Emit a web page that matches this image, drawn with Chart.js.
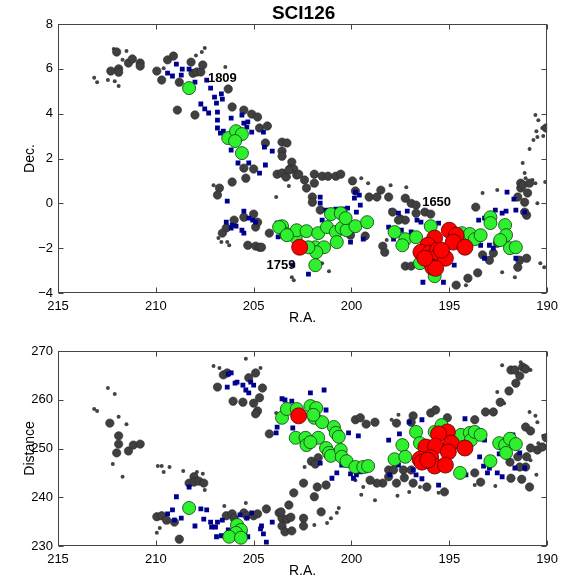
<!DOCTYPE html>
<html>
<head>
<meta charset="utf-8">
<script src="https://cdn.jsdelivr.net/npm/chart.js@4/dist/chart.umd.min.js"></script>
<style>
  html, body { margin: 0; padding: 0; background: #fff; }
  #wrap { position: relative; width: 564px; height: 579px; }
  canvas { position: absolute; left: 0; }
</style>
</head>
<body>
<div id="wrap">
  <canvas id="top" width="564" height="335" style="top:0"></canvas>
  <canvas id="bottom" width="564" height="244" style="top:335px"></canvas>
</div>
<script>
// R.A. axis is shared, drawn reversed
const raMin = 190, raMax = 215;
const decMin = -4, decMax = 8;
const distMin = 230, distMax = 270;

// ---- upper panel: [R.A., Dec.] ----
const topGrayLarge = [
  [212.3,5.9],[211.9,6.0],[211.9,5.85],[211.4,6.26],[211.2,6.44],[210.8,6.26],[210.8,6.12],[212.0,6.75],
  [209.95,5.9],[209.7,5.5],[209.4,6.4],[209.1,6.57],[208.8,5.4],[208.2,6.3],[208.1,5.8],[207.9,5.86],
  [207.7,5.86],[207.6,6.17],[206.3,5.1],[208.9,4.16],[208.0,3.94],[206.1,4.3],[205.5,4.16],[205.1,3.98],
  [204.8,3.85],[204.7,3.36],[204.3,3.45],[204.4,2.69],[203.55,2.73],[203.3,2.69],[203.55,2.33],[203.55,2.1],
  [205.5,1.57],[205.4,1.12],[205.0,1.53],[206.1,0.95],[206.75,0.68],[206.85,0.37],[203.8,1.3],[203.55,1.35],
  [203.35,1.17],[203.05,1.84],[203.15,1.53],[202.95,1.53],[202.8,1.26],[203.2,1.48],[202.7,1.3],[202.4,1.04],
  [201.9,1.3],[201.9,0.9],[201.5,1.21],[201.2,1.21],[200.8,1.21],[200.55,1.3],[199.95,1.0],[202.3,0.68],
  [202.0,0.28],[202.0,0.05],[201.6,-0.3],[199.8,0.55],[199.1,0.28],[205.5,-0.62],[205.0,-0.48],[204.9,-1.06],
  [204.8,-0.84],[206.0,-0.75],[206.4,-1.1],[206.6,-1.33],[205.3,-1.87],[204.9,-1.91],[204.7,-1.96],[204.6,-1.96],
  [204.2,-1.33],[199.3,-1.46],[200.05,-1.42],[198.5,0.59],[198.1,0.28],[198.7,0.28],[197.25,0.23],[196.95,0.0],
  [196.7,-0.08],[197.9,-0.39],[197.5,-0.7],[197.25,-0.75],[197.6,-0.75],[196.7,-0.44],[196.25,-0.39],[195.95,-0.48],
  [198.4,-1.91],[198.3,-2.18],[197.25,-2.8],[196.95,-2.8],[193.65,-0.17],[192.55,-1.78],[192.75,-2.22],[192.95,-2.54],
  [193.3,-2.3],[191.4,-2.54],[191.5,-2.85],[191.05,-2.45],[194.05,-3.34],[193.55,-3.1],[194.65,-3.65],[191.5,0.28],
  [191.15,0.05],[191.05,-0.53],[191.35,0.68],[191.35,0.9],[191.25,0.81],[191.0,0.46],[190.9,0.9],[191.15,-0.39],
  [190.05,3.36]
];
const topGraySmall = [
  [213.15,5.6],[213.0,5.4],[212.45,5.5],[212.1,5.45],[211.9,5.23],[212.15,6.88],[211.5,6.8],[211.7,6.4],
  [207.95,6.6],[207.65,6.75],[207.5,6.93],[206.45,6.08],[209.6,6.03],[207.05,0.81],[203.85,0.28],[203.2,0.77],
  [206.65,-1.73],[206.35,-1.73],[206.25,-1.87],[206.8,-1.55],[203.05,-3.3],[202.95,-3.43],[201.5,-2.67],[201.15,-3.03],
  [199.5,1.12],[203.2,1.17],[197.2,0.72],[198.0,0.81],[199.15,0.9],[193.3,0.46],[192.55,0.59],[191.25,1.8],
  [191.15,1.35],[191.1,1.12],[190.75,1.04],[190.6,0.9],[190.1,0.95],[190.5,0.0],[190.35,-2.67],[190.15,-2.85],
  [191.65,-3.3],[192.3,-3.07],[194.15,-3.65],[198.0,-0.3],[198.2,-1.64],[190.6,3.94],[190.45,3.71],[190.55,3.22],
  [190.25,3.36],[190.2,3.0],[190.5,2.96],[190.7,2.82],[190.9,2.42]
];
const topBlue = [
  [208.95,6.21],[208.65,5.99],[209.4,5.81],[209.15,5.68],[208.7,5.72],[208.3,5.99],[208.0,5.41],[207.4,5.5],
  [207.2,5.14],[207.0,4.74],[206.65,4.88],[206.6,4.65],[206.9,4.47],[207.7,4.43],[207.5,4.21],[207.3,4.03],
  [206.85,4.07],[206.85,3.71],[206.15,3.8],[205.6,3.94],[205.5,3.58],[205.3,3.63],[205.35,3.4],[205.1,3.18],
  [204.5,3.18],[206.85,3.36],[206.7,3.13],[206.55,3.22],[206.15,2.38],[204.45,2.51],[204.05,2.33],[205.8,1.8],
  [205.25,1.8],[204.7,1.35],[204.4,1.71],[206.35,0.1],[205.5,-0.35],[206.4,-0.84],[206.1,-0.97],[205.9,-1.02],
  [206.15,-1.1],[205.5,-1.33],[205.25,-0.66],[205.05,-0.75],[204.9,-0.84],[205.6,-1.2],[203.8,-0.88],[203.75,-1.5],
  [203.0,-2.76],[202.2,-3.16],[201.6,0.28],[201.6,0.01],[201.3,-0.3],[201.5,-0.75],[200.8,-0.26],[200.35,-0.26],
  [200.2,-0.21],[199.75,-0.39],[199.55,-0.08],[199.85,0.23],[199.6,0.37],[199.8,0.5],[200.05,-1.73],[199.4,-1.6],
  [198.1,-1.06],[197.6,-0.44],[197.15,-0.35],[196.65,-0.75],[196.45,-0.84],[195.55,-0.88],[197.45,-1.2],[196.95,-1.28],
  [197.85,-1.6],[194.75,-2.76],[196.35,-3.52],[195.3,-3.52],[193.5,-0.75],[193.2,-0.66],[192.65,-0.3],[192.05,0.5],
  [191.7,0.19],[191.6,-0.3],[191.15,-0.39],[193.4,-1.87],[192.95,-1.87],[192.75,-2.0],[193.2,-2.45],[191.6,-2.45],
  [192.1,-0.35],[192.3,-0.44]
];
const topGreen = [
  [208.3,5.14],[206.3,2.91],[205.9,3.22],[205.6,3.09],[205.95,2.78],[205.6,2.24],[203.55,-1.02],[203.35,-1.37],
  [202.85,-1.51],[202.8,-1.2],[203.7,-1.06],[203.3,-1.42],[202.3,-1.24],[201.7,-1.33],[201.25,-1.06],[200.8,-1.28],
  [200.5,-1.1],[200.25,-1.2],[199.8,-1.02],[199.2,-0.84],[201.05,-0.48],[200.55,-0.44],[200.3,-0.66],[200.75,-1.73],
  [201.85,-1.96],[201.4,-1.96],[201.8,-2.18],[201.85,-2.76],[202.2,-1.96],[197.8,-1.28],[197.25,-1.6],[197.4,-1.87],
  [196.7,-1.51],[195.95,-1.02],[196.5,-2.67],[195.75,-3.25],[194.35,-1.33],[193.95,-1.37],[193.7,-1.6],[193.4,-1.42],
  [192.9,-0.62],[192.9,-0.88],[192.15,-0.97],[192.1,-1.42],[192.4,-1.64],[191.9,-2.0],[191.6,-1.96]
];
const topRed = [
  [202.65,-1.96],[195.0,-1.2],[195.75,-1.55],[196.1,-1.87],[196.45,-2.18],[196.0,-2.22],[195.6,-2.09],[195.7,-2.45],
  [195.2,-2.45],[195.85,-2.85],[195.7,-2.9],[194.65,-1.42],[194.8,-1.73],[194.2,-1.96],[195.4,-2.09],[196.25,-2.45]
];
const topNotes = [
  { text: '1809', ra: 206.6, dec: 5.55 },
  { text: '1650', ra: 195.65, dec: 0.05 },
  { text: '1759', ra: 203.6, dec: -2.76 }
];

// ---- lower panel: [R.A., Distance] ----
const botGrayLarge = [
  [212.35,255.2],[211.9,252.6],[211.9,250.9],[212.0,249.1],[211.4,249.5],[211.15,250.7],[210.8,250.9],[206.85,262.6],
  [206.55,265.1],[206.35,265.5],[205.25,264.5],[204.9,265.5],[204.55,262.4],[206.05,259.7],[205.55,259.5],[205.0,259.3],
  [204.7,260.4],[204.8,257.7],[204.9,257.1],[204.2,253.0],[208.05,244.2],[208.3,242.9],[208.05,243.1],[207.8,243.3],
  [207.55,242.9],[209.95,236.0],[209.7,236.2],[209.45,235.3],[209.05,234.9],[208.8,231.4],[206.4,236.2],[206.1,236.6],
  [206.0,235.7],[205.5,236.8],[205.35,236.2],[205.0,236.2],[204.8,236.6],[204.35,237.6],[203.7,236.8],[203.55,235.7],
  [203.3,235.5],[203.1,235.9],[203.55,234.1],[203.4,232.9],[203.05,233.1],[203.2,238.4],[202.95,240.9],[199.8,255.9],
  [199.55,256.3],[199.25,255.0],[202.05,247.4],[201.7,248.1],[201.85,246.8],[202.45,242.9],[201.75,242.1],[201.3,242.5],
  [201.9,240.1],[203.6,237.0],[202.45,235.7],[202.45,234.1],[201.55,237.0],[198.8,255.4],[197.7,255.2],[196.85,256.7],
  [195.95,257.3],[195.7,257.9],[195.1,256.3],[196.95,255.4],[193.15,257.5],[192.75,257.5],[193.7,255.9],[192.4,259.5],
  [191.95,261.8],[191.6,263.4],[191.4,264.9],[191.85,266.1],[191.65,266.1],[191.25,266.7],[191.1,266.3],[191.1,254.4],
  [190.85,253.6],[190.5,249.7],[190.85,250.1],[191.05,248.3],[191.1,246.2],[191.5,248.3],[191.4,246.2],[191.9,247.2],
  [191.85,243.9],[191.3,243.7],[190.9,242.1],[190.25,250.3],[198.1,245.6],[197.85,245.6],[197.35,245.6],[196.95,245.6],
  [197.3,244.0],[196.85,242.9],[196.15,242.1],[195.25,241.1],[198.4,242.9],[198.7,242.9],[199.05,243.5],[198.1,244.2],
  [197.7,242.9],[193.7,245.0],[193.4,243.1],[190.05,252.2]
];
const botGraySmall = [
  [213.15,258.1],[213.0,257.7],[212.45,262.4],[212.1,261.2],[211.9,256.5],[211.5,255.0],[207.05,266.9],[206.75,266.5],
  [205.4,268.4],[204.65,266.5],[203.85,257.3],[212.2,246.8],[211.7,244.2],[209.9,246.4],[209.7,246.4],[209.6,245.2],
  [209.3,246.2],[208.6,245.4],[207.9,245.2],[207.6,244.8],[207.5,241.5],[209.95,232.7],[209.8,233.7],[206.5,238.2],
  [205.4,238.8],[200.65,237.8],[200.75,236.8],[201.05,235.7],[201.25,234.7],[201.9,234.3],[202.4,246.2],[199.5,240.5],
  [199.4,242.1],[199.8,243.5],[192.3,267.1],[191.35,267.7],[190.85,266.1],[192.55,261.6],[192.2,259.3],[190.9,257.5],
  [190.6,256.7],[190.5,255.4],[190.45,251.1],[190.2,252.6],[190.55,244.6],[190.85,247.6],[196.5,242.1],[197.05,241.1],
  [197.65,240.3],[195.55,240.9],[192.65,242.3],[193.7,242.5],[197.6,256.9],[197.95,255.9],[198.8,239.4]
];
const botBlue = [
  [206.3,265.3],[206.15,265.5],[206.35,262.6],[205.95,263.4],[205.85,263.6],[205.55,263.0],[205.4,262.0],[205.25,261.4],
  [205.15,263.6],[205.0,263.0],[203.55,260.2],[203.4,259.95],[203.05,259.7],[203.8,254.4],[203.0,254.2],[202.1,261.4],
  [201.4,262.0],[201.3,257.9],[203.85,253.2],[200.15,253.2],[199.65,252.6],[201.6,247.0],[200.75,245.0],[200.5,246.6],
  [201.0,243.9],[200.05,244.8],[199.75,244.6],[199.55,245.2],[199.9,243.9],[199.3,245.4],[208.3,242.1],[208.95,240.1],
  [209.4,236.6],[209.15,237.4],[208.7,235.7],[209.05,235.3],[208.0,234.1],[207.7,237.6],[207.4,237.4],[207.55,235.5],
  [207.2,234.9],[206.95,233.9],[207.15,233.9],[206.85,234.9],[206.6,235.3],[206.9,231.9],[206.65,232.1],[206.3,233.3],
  [205.7,236.4],[205.35,235.7],[205.1,236.8],[205.3,231.9],[205.45,232.9],[204.65,233.5],[204.5,232.5],[204.35,230.8],
  [204.05,234.9],[204.6,234.1],[197.55,253.0],[198.1,251.7],[197.05,255.4],[196.4,255.9],[194.2,256.1],[193.2,251.7],
  [193.45,248.3],[193.25,246.4],[193.05,245.0],[192.55,245.0],[192.3,244.2],[192.95,246.0],[191.75,252.8],[191.4,249.1],
  [191.65,246.0],[191.15,246.0],[197.6,246.6],[198.05,244.6],[196.85,245.6],[196.7,244.6],[196.4,243.8],[195.55,242.5],
  [194.15,244.6],[192.45,248.9],[192.05,248.3]
];
const botGreen = [
  [203.55,256.3],[203.3,258.1],[202.8,258.1],[202.1,258.7],[201.8,258.3],[201.9,256.3],[201.5,255.4],[202.85,252.2],
  [202.35,252.2],[202.3,250.7],[201.7,252.2],[202.1,251.3],[200.9,254.4],[200.8,253.2],[200.65,252.4],[201.3,250.1],
  [201.15,249.1],[201.05,248.5],[200.55,249.7],[200.5,248.3],[200.25,247.4],[199.8,246.2],[199.4,246.2],[201.95,256.9],
  [205.85,234.3],[205.65,233.3],[205.9,232.7],[206.25,231.9],[205.65,231.7],[208.3,237.8],[199.15,246.4],[197.8,247.8],
  [197.4,250.7],[197.25,248.3],[196.7,253.4],[196.5,251.1],[195.75,253.4],[195.4,254.8],[194.45,245.0],[194.4,252.8],
  [193.95,253.2],[193.9,251.7],[193.7,253.4],[193.4,252.8],[192.9,247.4],[192.45,251.1],[192.15,250.7],[192.1,249.1],
  [191.9,252.0],[191.6,250.9]
];
const botRed = [
  [202.7,256.7],[195.1,253.4],[195.55,253.0],[196.2,250.3],[195.7,250.5],[194.9,251.1],[194.2,250.1],[195.05,249.3],
  [196.5,247.8],[195.95,248.1],[195.75,246.4],[195.2,246.6],[196.4,247.2],[196.1,247.6]
];

const FONT = '"Liberation Sans", Arial, Helvetica, sans-serif';
const toPts = arr => arr.map(([x, y]) => ({ x, y }));

function series(red, green, blue, grayL, grayS) {
  // first dataset is painted last, so red ends up on top
  return [
    { data: toPts(red), pointRadius: 8, backgroundColor: '#ff0000', borderColor: '#5a0000', borderWidth: 0.8 },
    { data: toPts(green), pointRadius: 6.5, backgroundColor: '#2ef02e', borderColor: '#0b3d0b', borderWidth: 0.8 },
    { data: toPts(blue), pointStyle: 'rect', pointRadius: 3.4, backgroundColor: '#00008f', borderColor: '#00008f', borderWidth: 0 },
    { data: toPts(grayL), pointRadius: 4.2, backgroundColor: '#404040', borderColor: '#2a2a2a', borderWidth: 0.6 },
    { data: toPts(grayS), pointRadius: 2, backgroundColor: '#444444', borderColor: '#333333', borderWidth: 0 }
  ].map(d => Object.assign({ pointHoverRadius: d.pointRadius }, d));
}

// box, inward tick marks, axis titles and text notes
function framePlugin(xTitle, yTitle, title, notes) {
  return {
    id: 'frame',
    afterDatasetsDraw(chart) {
      const ctx = chart.ctx;
      const a = chart.chartArea;
      const xs = chart.scales.x, ys = chart.scales.y;
      ctx.save();
      if (notes) {
        ctx.fillStyle = '#000';
        ctx.font = 'bold 13px ' + FONT;
        ctx.textAlign = 'center';
        ctx.textBaseline = 'middle';
        notes.forEach(n => ctx.fillText(n.text, xs.getPixelForValue(n.ra), ys.getPixelForValue(n.dec)));
      }
      ctx.strokeStyle = '#444';
      ctx.lineWidth = 1;
      const L = Math.round(a.left) + 0.5, R = Math.round(a.right) - 0.5;
      const T = Math.round(a.top) + 0.5, B = Math.round(a.bottom) - 0.5;
      ctx.strokeRect(L, T, R - L, B - T);
      ctx.beginPath();
      xs.ticks.forEach(t => {
        const p = Math.round(xs.getPixelForValue(t.value)) + 0.5;
        ctx.moveTo(p, B); ctx.lineTo(p, B - 5);
        ctx.moveTo(p, T); ctx.lineTo(p, T + 5);
      });
      ys.ticks.forEach(t => {
        const p = Math.round(ys.getPixelForValue(t.value)) + 0.5;
        ctx.moveTo(L, p); ctx.lineTo(L + 5, p);
        ctx.moveTo(R, p); ctx.lineTo(R - 5, p);
      });
      ctx.stroke();

      ctx.fillStyle = '#000';
      ctx.font = '14px ' + FONT;
      ctx.textAlign = 'center';
      ctx.textBaseline = 'middle';
      ctx.fillText(xTitle, (a.left + a.right) / 2, a.bottom + 25);
      ctx.translate(a.left - 28, (a.top + a.bottom) / 2);
      ctx.rotate(-Math.PI / 2);
      ctx.fillText(yTitle, 0, 0);
      ctx.restore();
      if (title) {
        ctx.save();
        ctx.fillStyle = '#000';
        ctx.font = 'bold 19px ' + FONT;
        ctx.textAlign = 'center';
        ctx.textBaseline = 'middle';
        ctx.fillText(title, (a.left + a.right) / 2 + 1, 14);
        ctx.restore();
      }
    }
  };
}

function makeChart(id, datasets, yMin, yMax, yStep, xTitle, yTitle, title, notes, padTop) {
  const canvas = document.getElementById(id);
  const xHeight = canvas.height - padTop - (yMin === decMin ? 269 : 195);
  return new Chart(canvas.getContext('2d'), {
    type: 'scatter',
    data: { datasets },
    options: {
      responsive: false,
      animation: false,
      devicePixelRatio: 1,
      layout: { padding: { top: padTop, right: 14, left: 0, bottom: 0 } },
      plugins: { legend: { display: false }, tooltip: { enabled: false } },
      scales: {
        x: {
          type: 'linear', min: raMin, max: raMax, reverse: true,
          grid: { display: false, drawTicks: false }, border: { display: false },
          ticks: { stepSize: 5, padding: 6, color: '#000', font: { family: FONT, size: 13 } },
          afterFit: s => { s.height = xHeight; }
        },
        y: {
          type: 'linear', min: yMin, max: yMax,
          grid: { display: false, drawTicks: false }, border: { display: false },
          ticks: {
            stepSize: yStep, padding: 5, color: '#000', font: { family: FONT, size: 13 },
            callback: v => String(v).replace('-', '\u2212')
          },
          afterFit: s => { s.width = 58; }
        }
      }
    },
    plugins: [framePlugin(xTitle, yTitle, title, notes)]
  });
}

makeChart('top', series(topRed, topGreen, topBlue, topGrayLarge, topGraySmall),
  decMin, decMax, 2, 'R.A.', 'Dec.', 'SCI126', topNotes, 24);
makeChart('bottom', series(botRed, botGreen, botBlue, botGrayLarge, botGraySmall),
  distMin, distMax, 10, 'R.A.', 'Distance', null, null, 16);
</script>
</body>
</html>
